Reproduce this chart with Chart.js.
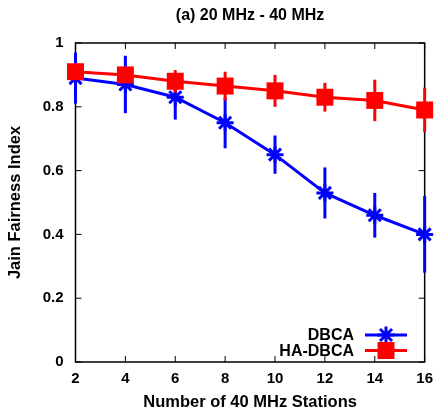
<!DOCTYPE html>
<html>
<head>
<meta charset="utf-8">
<script src="https://cdn.jsdelivr.net/npm/chart.js@4/dist/chart.umd.min.js"></script>
<style>
  body { margin: 0; background: #fff; }
</style>
</head>
<body>
<canvas id="myChart" width="441" height="412"></canvas>
<script>
// stations on the x axis //
const xLabels = ["2", "4", "6", "8", "10", "12", "14", "16"];
// y axis ticks //
const yTicks = [0, 0.2, 0.4, 0.6, 0.8, 1];

// Jain fairness index, mean and error //
const dbca = [0.89, 0.87, 0.83, 0.75, 0.65, 0.53, 0.46, 0.40];
const dbcaErr = [0.08, 0.09, 0.07, 0.08, 0.06, 0.08, 0.07, 0.12];
const haDbca = [0.91, 0.90, 0.88, 0.865, 0.85, 0.83, 0.82, 0.79];
const haDbcaErr = [0.02, 0.02, 0.035, 0.045, 0.05, 0.045, 0.065, 0.07];

const chartTitle = "(a) 20 MHz - 40 MHz";
const FONT = "'Liberation Sans', Arial, sans-serif";

// error bars, frame, inward ticks, title and legend //
const extras = {
  id: "extras",
  beforeDatasetsDraw(chart) {
    const {ctx, chartArea: a, scales} = chart;
    ctx.save();
    ctx.strokeStyle = "#000";
    ctx.lineWidth = 1.5;
    ctx.strokeRect(a.left, a.top, a.right - a.left, a.bottom - a.top);
    ctx.lineWidth = 1;
    const tl = 6;
    yTicks.forEach(v => {
      const y = scales.y.getPixelForValue(v);
      ctx.beginPath();
      ctx.moveTo(a.left, y); ctx.lineTo(a.left + tl, y);
      ctx.moveTo(a.right, y); ctx.lineTo(a.right - tl, y);
      ctx.stroke();
    });
    xLabels.forEach((l, i) => {
      const x = scales.x.getPixelForValue(i);
      ctx.beginPath();
      ctx.moveTo(x, a.bottom); ctx.lineTo(x, a.bottom - tl);
      ctx.moveTo(x, a.top); ctx.lineTo(x, a.top + tl);
      ctx.stroke();
    });
    ctx.restore();
  },
  beforeDatasetDraw(chart, args) {
    const ds = chart.data.datasets[args.index];
    const meta = chart.getDatasetMeta(args.index);
    const y = chart.scales.y;
    const ctx = chart.ctx;
    ctx.save();
    ctx.strokeStyle = ds.borderColor;
    ctx.lineWidth = 3;
    ds.data.forEach((v, j) => {
      const x = meta.data[j].x;
      ctx.beginPath();
      ctx.moveTo(x, y.getPixelForValue(v + ds.errors[j]));
      ctx.lineTo(x, y.getPixelForValue(v - ds.errors[j]));
      ctx.stroke();
    });
    ctx.restore();
  },
  afterDraw(chart) {
    const {ctx, chartArea: a} = chart;
    ctx.save();
    ctx.fillStyle = "#000";
    ctx.font = "bold 16px " + FONT;
    ctx.textAlign = "center";
    ctx.textBaseline = "middle";
    ctx.fillText(chartTitle, (a.left + a.right) / 2, 16);

    // legend, bottom right inside the plot //
    ctx.font = "bold 16px " + FONT;
    ctx.textAlign = "right";
    chart.data.datasets.forEach((ds, i) => {
      const ly = 335 + i * 15.5;
      ctx.fillStyle = "#000";
      ctx.fillText(ds.label, 354, ly + 1);
      ctx.strokeStyle = ds.borderColor;
      ctx.fillStyle = ds.borderColor;
      ctx.lineWidth = 3;
      ctx.beginPath();
      ctx.moveTo(365, ly); ctx.lineTo(407, ly);
      ctx.stroke();
      Chart.helpers.drawPoint(ctx, {
        pointStyle: ds.pointStyle, radius: ds.pointRadius, rotation: 0, borderWidth: ds.pointBorderWidth
      }, 386, ly);
    });
    ctx.restore();
  }
};

new Chart("myChart", {
  type: "line",
  data: {
    labels: xLabels,
    datasets: [
      // HA-DBCA drawn on top //
      {
        label: "DBCA",
        data: dbca,
        errors: dbcaErr,
        borderColor: "#0000ff",
        backgroundColor: "#0000ff",
        borderWidth: 3,
        pointStyle: "star",
        pointRadius: 8.5,
        pointBorderWidth: 3,
        fill: false,
        clip: false,
        order: 2
      },
      {
        label: "HA-DBCA",
        data: haDbca,
        errors: haDbcaErr,
        borderColor: "#ff0000",
        backgroundColor: "#ff0000",
        borderWidth: 3,
        pointStyle: "rect",
        pointRadius: 12,
        pointBorderWidth: 0,
        fill: false,
        clip: false,
        order: 1
      }
    ]
  },
  options: {
    responsive: false,
    animation: false,
    layout: { padding: { top: 43, right: 13, left: 0, bottom: 0 } },
    plugins: {
      legend: { display: false },
      title: { display: false },
      tooltip: { enabled: false }
    },
    scales: {
      x: {
        type: "category",
        offset: false,
        grid: { display: false, drawTicks: false, tickLength: 0 },
        border: { display: false },
        ticks: { color: "#000", font: { family: FONT, size: 15, weight: "bold" }, padding: 8, maxRotation: 0 },
        title: { display: true, text: "Number of 40 MHz Stations", color: "#000",
                 font: { family: FONT, size: 16.5, weight: "bold" }, padding: { top: 0, bottom: 0 } },
        afterFit(s) { s.height = 50; }
      },
      y: {
        min: 0,
        max: 1,
        grid: { display: false, drawTicks: false, tickLength: 0 },
        border: { display: false },
        afterBuildTicks(s) { s.ticks = yTicks.map(v => ({ value: v })); },
        ticks: { color: "#000", font: { family: FONT, size: 15, weight: "bold" }, padding: 12,
                 callback: v => String(v) },
        title: { display: true, text: "Jain Fairness Index", color: "#000",
                 font: { family: FONT, size: 16.5, weight: "bold" }, padding: { top: 6, bottom: 0 } },
        afterFit(s) { s.width = 75.5; }
      }
    }
  },
  plugins: [extras]
});
</script>
</body>
</html>
